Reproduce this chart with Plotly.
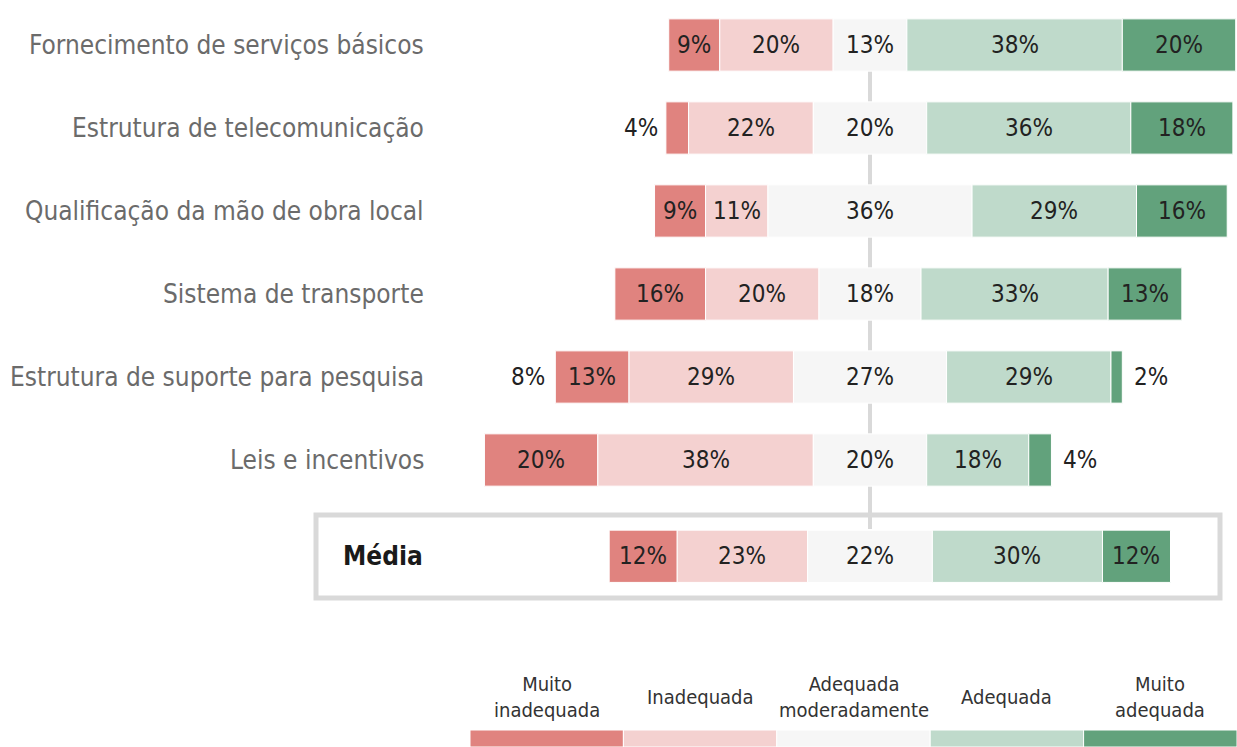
import plotly.graph_objects as go

categories = ["Fornecimento de serviços básicos", "Estrutura de telecomunicação",
              "Qualificação da mão de obra local", "Sistema de transporte",
              "Estrutura de suporte para pesquisa", "Leis e incentivos", "Média"]
levels = ["Muito<br>inadequada", "Inadequada", "Adequada<br>moderadamente", "Adequada", "Muito<br>adequada"]
muito_inadequada = [9, 4, 9, 16, 13, 20, 12]
inadequada = [20, 22, 11, 20, 29, 38, 23]
moderada = [13, 20, 36, 18, 27, 20, 22]
adequada = [38, 36, 29, 33, 29, 18, 30]
muito_adequada = [20, 18, 16, 13, 2, 4, 12]
extra_left_label = ["", "", "", "", "8%", "", ""]

colors = ["#e0837f", "#f4d1d0", "#f6f6f6", "#bfdacb", "#62a27c"]
series = [muito_inadequada, inadequada, moderada, adequada, muito_adequada]

W, H = 1237, 747
CX, PXU = 870, 5.67       # center pixel, pixels per percent
Y0, ROW = 45, 83
ypos = [0, 1, 2, 3, 4, 5, 6.16]

FONT = "DejaVu Sans Condensed, Liberation Sans Narrow, Roboto, sans-serif"

fig = go.Figure()

n = len(categories)
starts = [-(series[0][i] + series[1][i] + series[2][i] / 2) for i in range(n)]
bases = []
for s in range(5):
    b = []
    for i in range(n):
        b.append(starts[i] + sum(series[k][i] for k in range(s)))
    bases.append(b)

# center line (behind bars)
fig.add_shape(type="line", x0=0, x1=0, y0=0, y1=5.83, xref="x", yref="y",
              line=dict(color="#d9d9d9", width=4), layer="below")

for s in range(5):
    fig.add_trace(go.Bar(
        y=ypos, x=series[s], base=bases[s], orientation="h",
        marker=dict(color=colors[s], line=dict(color="white", width=1)),
        width=0.63, showlegend=False, hoverinfo="skip"))

TS = 24
annotations = []
for s in range(5):
    for i in range(n):
        v = series[s][i]
        mid = bases[s][i] + v / 2
        if v >= 5:
            annotations.append(dict(x=mid, y=ypos[i], xref="x", yref="y", text=f"{v}%",
                                    xanchor="center", showarrow=False,
                                    font=dict(size=TS, color="#222222", family=FONT)))
        else:
            if s == 0:
                annotations.append(dict(x=bases[s][i], y=ypos[i], xref="x", yref="y", text=f"{v}%",
                                        xanchor="right", xshift=-6, showarrow=False,
                                        font=dict(size=TS, color="#222222", family=FONT)))
            else:
                annotations.append(dict(x=bases[s][i] + v, y=ypos[i], xref="x", yref="y", text=f"{v}%",
                                        xanchor="left", xshift=10, showarrow=False,
                                        font=dict(size=TS, color="#222222", family=FONT)))
for i in range(n):
    if extra_left_label[i]:
        annotations.append(dict(x=starts[i], y=ypos[i], xref="x", yref="y", text=extra_left_label[i],
                                xanchor="right", xshift=-8, showarrow=False,
                                font=dict(size=TS, color="#222222", family=FONT)))

for i, c in enumerate(categories):
    if c == "Média":
        annotations.append(dict(x=425 / W, y=ypos[i], xref="paper", yref="y", text=f"<b>{c}</b>",
                                xanchor="right", showarrow=False,
                                font=dict(size=26, color="#1a1a1a", family=FONT)))
    else:
        annotations.append(dict(x=426 / W, y=ypos[i], xref="paper", yref="y", text=c,
                                xanchor="right", showarrow=False,
                                font=dict(size=26, color="#6b6b6b", family=FONT)))

# Média box
fig.add_shape(type="rect", x0=316 / W, x1=1220 / W, y0=1 - 598 / H, y1=1 - 515 / H,
              xref="paper", yref="paper", line=dict(color="#d9d9d9", width=5), layer="below")

# legend blocks
bw = (W - 470) / 5
for s in range(5):
    x0 = 470 + bw * s
    fig.add_shape(type="rect", x0=x0 / W, x1=(x0 + bw) / W, y0=0, y1=1 - 730 / H,
                  xref="paper", yref="paper", line=dict(color="white", width=1),
                  fillcolor=colors[s], layer="below")
    annotations.append(dict(x=(x0 + bw / 2) / W, y=1 - 697 / H, xref="paper", yref="paper",
                            text=levels[s], showarrow=False, xanchor="center", yanchor="middle",
                            align="center",
                            font=dict(size=20, color="#333333", family=FONT)))

fig.update_layout(
    width=W, height=H, margin=dict(l=0, r=0, t=0, b=0),
    plot_bgcolor="white", paper_bgcolor="white", barmode="overlay",
    xaxis=dict(range=[(0 - CX) / PXU, (W - CX) / PXU], visible=False, fixedrange=True),
    yaxis=dict(range=[(H - Y0) / ROW, -Y0 / ROW], visible=False, fixedrange=True),
    annotations=annotations,
)

fig.write_html("out.html", config={"displayModeBar": False},
               post_script="document.body.style.margin='0';document.body.style.overflow='hidden';")
